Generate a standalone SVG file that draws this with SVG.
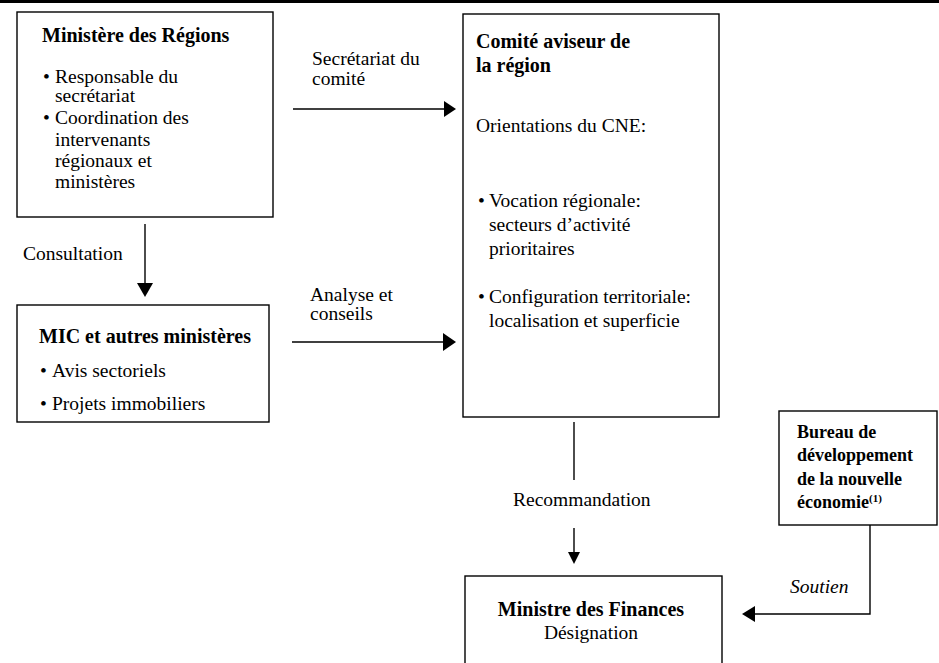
<svg xmlns="http://www.w3.org/2000/svg" width="939" height="663" viewBox="0 0 939 663">
<style>
.box{fill:#fff;stroke:#000;stroke-width:1.4}
.ln{fill:none;stroke:#000;stroke-width:1.4}
.ah{fill:#000}
text{font-family:"Liberation Serif","Times New Roman",serif;font-size:19.5px;fill:#000}
.b{font-weight:bold;font-size:20px}
.bs{font-weight:bold;font-size:18px}
.i{font-style:italic}
.sup{font-weight:bold;font-size:11px}
</style>
<rect x="0" y="0" width="939" height="3" fill="#000"/>
<g id="connectors">
  <line class="ln" x1="293" y1="109" x2="445" y2="109"/>
  <polygon class="ah" points="444,101 444,117 456,109"/>
  <line class="ln" x1="145" y1="224" x2="145" y2="284"/>
  <polygon class="ah" points="137,283 153,283 145,297"/>
  <line class="ln" x1="292" y1="342" x2="444" y2="342"/>
  <polygon class="ah" points="443,333 443,351 456,342"/>
  <line class="ln" x1="574" y1="422" x2="574" y2="480"/>
  <line class="ln" x1="574" y1="528" x2="574" y2="553"/>
  <polygon class="ah" points="568,552 580,552 574,564"/>
  <polyline class="ln" points="870,525 870,614 754,614"/>
  <polygon class="ah" points="755,606 755,622 742,614"/>
  <text x="312" y="65">Secrétariat du</text>
  <text x="312" y="85">comité</text>
  <text x="23" y="260">Consultation</text>
  <text x="310" y="301">Analyse et</text>
  <text x="310" y="320">conseils</text>
  <text x="513" y="506">Recommandation</text>
  <text class="i" x="790" y="593">Soutien</text>
</g>
<g id="ministere-regions">
  <rect class="box" x="17" y="12" width="256" height="205"/>
  <text class="b" x="42" y="42">Ministère des Régions</text>
  <text x="43" y="83">•</text><text x="55" y="83">Responsable du</text>
  <text x="55" y="102">secrétariat</text>
  <text x="43" y="124">•</text><text x="55" y="124">Coordination des</text>
  <text x="55" y="146">intervenants</text>
  <text x="55" y="167">régionaux et</text>
  <text x="55" y="188">ministères</text>
</g>
<g id="mic">
  <rect class="box" x="17" y="305" width="252" height="117"/>
  <text class="b" x="39" y="343">MIC et autres ministères</text>
  <text x="40" y="377">•</text><text x="52" y="377">Avis sectoriels</text>
  <text x="40" y="410">•</text><text x="52" y="410">Projets immobiliers</text>
</g>
<g id="comite">
  <rect class="box" x="463" y="14" width="256" height="403"/>
  <text class="b" x="476" y="48">Comité aviseur de</text>
  <text class="b" x="476" y="72">la région</text>
  <text x="476" y="132">Orientations du CNE:</text>
  <text x="478" y="207">•</text><text x="489" y="207">Vocation régionale:</text>
  <text x="489" y="231">secteurs d’activité</text>
  <text x="489" y="255">prioritaires</text>
  <text x="478" y="303">•</text><text x="489" y="303">Configuration territoriale:</text>
  <text x="489" y="327">localisation et superficie</text>
</g>
<g id="bureau">
  <rect class="box" x="779" y="411" width="158" height="114"/>
  <text class="bs" x="797" y="438">Bureau de</text>
  <text class="bs" x="797" y="461">développement</text>
  <text class="bs" x="797" y="485">de la nouvelle</text>
  <text class="bs" x="797" y="508">économie<tspan class="sup" dy="-6">(1)</tspan></text>
</g>
<g id="ministre-finances">
  <rect class="box" x="465" y="576" width="257" height="100"/>
  <text class="b" x="591" y="616" text-anchor="middle">Ministre des Finances</text>
  <text x="591" y="639" text-anchor="middle">Désignation</text>
</g>
</svg>
